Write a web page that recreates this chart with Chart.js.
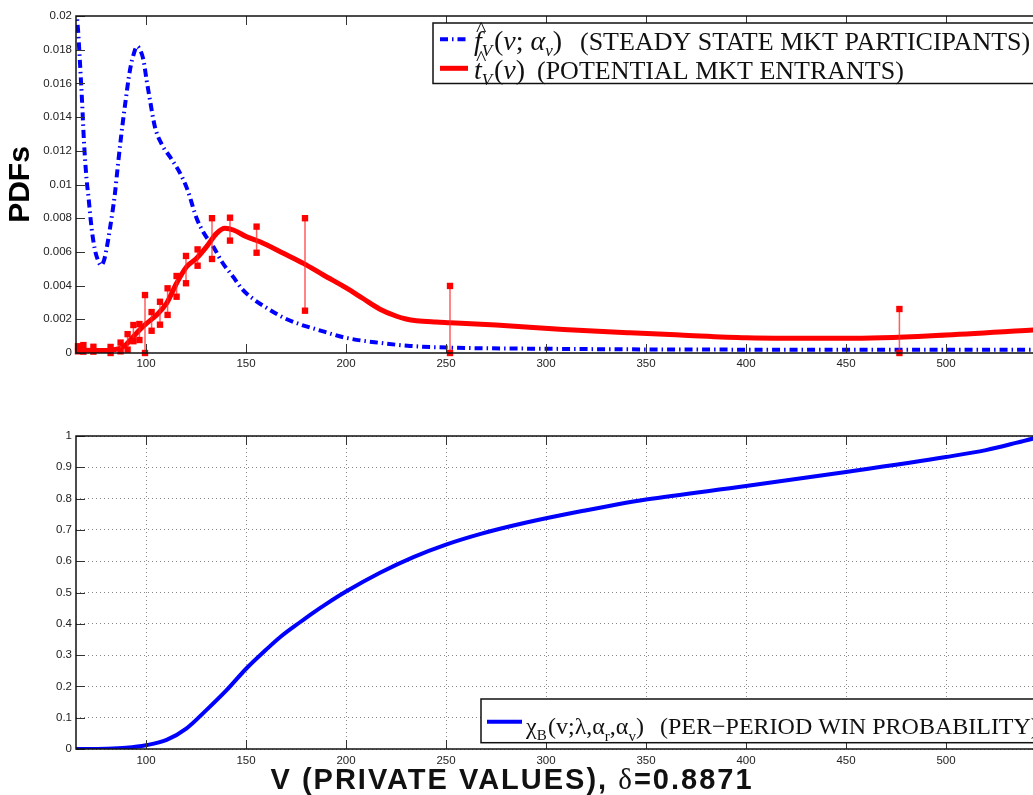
<!DOCTYPE html>
<html>
<head>
<meta charset="utf-8">
<script src="https://cdn.jsdelivr.net/npm/chart.js@4.4.0/dist/chart.umd.min.js"></script>
<style>
html, body { margin: 0; padding: 0; background: #fff; overflow: hidden; }
#wrap { position: relative; width: 1033px; height: 795px; overflow: hidden; background: #fff; }
canvas { position: absolute; left: 0; }
</style>
</head>
<body>
<div id="wrap">
    <canvas id="pdfChart" width="1060" height="378" style="top:0"></canvas>
    <canvas id="winChart" width="1060" height="395" style="top:400px"></canvas>
</div>
<script>
// tick values
const xTicks = [100, 150, 200, 250, 300, 350, 400, 450, 500];
const pdfTicks = [0, 0.002, 0.004, 0.006, 0.008, 0.01, 0.012, 0.014, 0.016, 0.018, 0.02];
const probTicks = [0, 0.1, 0.2, 0.3, 0.4, 0.5, 0.6, 0.7, 0.8, 0.9, 1];

// f_V(v; alpha_v) - steady state market participants
const fV_v = [65, 66, 67, 68, 69, 70.3, 71.2, 72.8, 74.5, 76, 77.5, 79, 80.3, 82, 84.5, 86, 87.5, 89.5, 92, 94, 95.5,
    97, 98.7, 100.3, 102, 104.5, 107.8, 112.8, 117.8, 121, 125.3, 129, 133.7, 138, 143.7, 148, 153.7, 160, 168.7,
    177, 185.3, 200, 217, 232, 252, 300, 400, 500, 550];
const fV_pdf = [0.0205, 0.0192, 0.0172, 0.0150, 0.0125, 0.0103, 0.0093, 0.0074, 0.0061, 0.0055, 0.0052, 0.0055, 0.0062,
    0.0074, 0.0095, 0.0112, 0.0128, 0.0147, 0.0168, 0.0178, 0.0182, 0.0180, 0.0174, 0.0162, 0.0150, 0.0134, 0.0124,
    0.0115, 0.0105, 0.0096, 0.0080, 0.0071, 0.0063, 0.0054, 0.0045, 0.0038, 0.0032, 0.0027, 0.0021, 0.0017, 0.0014,
    0.0009, 0.0006, 0.00042, 0.00032, 0.00025, 0.0002, 0.0002, 0.0002];

// t_V(v) - potential market entrants
const tV_v = [65, 70, 75, 80, 84, 87, 90, 93.7, 97, 100.3, 105.3, 110.3, 115.3, 120.3, 125.3, 130.3, 135.3, 139.5,
    143.7, 150.3, 157, 168.7, 178.7, 188.7, 200.3, 208.7, 217, 225.3, 230, 235.3, 245, 252, 275, 308.7, 342, 367, 400,
    450, 500, 543.5, 550];
const tV_pdf = [0.00018, 0.00016, 0.00015, 0.00015, 0.0002, 0.00028, 0.0005, 0.00097, 0.0014, 0.00176, 0.00225,
    0.00295, 0.00414, 0.00512, 0.00562, 0.00631, 0.0071, 0.0074, 0.0073, 0.0069, 0.0066, 0.00592, 0.00532, 0.00463,
    0.00385, 0.00322, 0.0026, 0.00218, 0.00202, 0.00192, 0.00184, 0.0018, 0.00166, 0.0014, 0.0012, 0.00107, 0.00091,
    0.00087, 0.00107, 0.00137, 0.00142];

// empirical bands (red squares)
const bar_v  = [66, 68.7, 73.7, 82.3, 87.3, 90.8, 93.7, 96.7, 99.5, 102.8, 107, 110.8, 115.3, 120, 125.8, 133, 142,
    155.3, 179.5, 252, 476.7];
const bar_lo = [0.0001, 0.00008, 0.00008, 0, 0.0001, 0.0002, 0.0007, 0.00077, 0, 0.00132, 0.00168, 0.00226, 0.00334,
    0.00414, 0.00518, 0.00558, 0.00667, 0.00595, 0.00251, 0, 0];
const bar_hi = [0.0004, 0.00047, 0.00037, 0.00036, 0.00062, 0.00112, 0.00166, 0.00172, 0.00344, 0.00243, 0.00304,
    0.00384, 0.00457, 0.00576, 0.00615, 0.008, 0.00803, 0.0075, 0.008, 0.00398, 0.00261];

// chi_B(v; lambda, alpha_r, alpha_v) - per-period win probability
const chi_v = [65, 80, 90, 100, 110.3, 120.3, 130.3, 140.3, 150.3, 160, 167, 177, 183.7, 190, 200, 217, 233.7, 250,
    267.8, 283.7, 300, 318.7, 336, 350, 400, 450, 500, 520, 535, 550];
const chi_p = [0, 0.001, 0.004, 0.012, 0.029, 0.066, 0.125, 0.188, 0.258, 0.317, 0.357, 0.405, 0.436, 0.463, 0.503,
    0.563, 0.613, 0.653, 0.688, 0.714, 0.737, 0.761, 0.782, 0.797, 0.84, 0.885, 0.933, 0.955, 0.978, 1.003];

function pts(xs, ys) {
    return xs.map(function (x, i) { return { x: x, y: ys[i] }; });
}

// pares de puntos unidos por una linea vertical
function barPts() {
    const out = [];
    bar_v.forEach(function (v, i) {
        out.push({ x: v, y: bar_lo[i] });
        out.push({ x: v, y: bar_hi[i] });
        out.push({ x: v, y: null });
    });
    return out;
}

Chart.defaults.font.family = '"Liberation Sans", Arial, sans-serif';
Chart.defaults.font.size = 11.5;
Chart.defaults.color = '#222';

const SERIF = '"Liberation Serif", "Times New Roman", serif';

function drawRich(ctx, segs, baseline, size) {
    let x = 0;
    segs.forEach(function (s) {
        if (s.x !== undefined) x = s.x;
        const base = s.m ? size + 2 : size;
        const sz = s.sub ? Math.round(base * 0.62) : base;
        ctx.font = (s.it ? 'italic ' : '') + sz + 'px ' + SERIF;
        const y = baseline + (s.sub ? base * (s.low || 0.2) : 0);
        ctx.fillText(s.t, x, y);
        const w = ctx.measureText(s.t).width;
        if (s.hat) {
            ctx.font = Math.round(base * 0.8) + 'px ' + SERIF;
            const hw = ctx.measureText('^').width;
            ctx.fillText('^', x + w / 2 - hw / 2 + base * 0.12, baseline - base * 0.5);
        }
        x += w;
    });
    return x;
}

// caja, ticks hacia dentro, leyenda y titulo
const matlabAxes = {
    id: 'matlabAxes',
    afterDraw: function (chart, args, opts) {
        const ctx = chart.ctx;
        const a = chart.chartArea;
        const xs = chart.scales.x, ys = chart.scales.y;
        ctx.save();
        ctx.strokeStyle = '#333';
        ctx.lineWidth = 1;
        ctx.beginPath();
        opts.xTicks.forEach(function (v) {
            const px = Math.round(xs.getPixelForValue(v)) + 0.5;
            ctx.moveTo(px, a.bottom); ctx.lineTo(px, a.bottom - 9);
            ctx.moveTo(px, a.top); ctx.lineTo(px, a.top + 9);
        });
        opts.yTicks.forEach(function (v) {
            const py = Math.round(ys.getPixelForValue(v)) + 0.5;
            ctx.moveTo(a.left, py); ctx.lineTo(a.left + 9, py);
        });
        ctx.stroke();
        ctx.strokeStyle = '#111';
        ctx.lineWidth = 1.5;
        ctx.strokeRect(a.left, a.top, a.right - a.left, a.bottom - a.top);

        // leyenda
        const lg = opts.legend;
        ctx.fillStyle = '#fff';
        ctx.fillRect(lg.left, lg.top, 700, lg.bottom - lg.top);
        ctx.fillStyle = '#111';
        ctx.textBaseline = 'alphabetic';
        ctx.textAlign = 'left';
        let right = 0;
        lg.rows.forEach(function (r) {
            ctx.save();
            ctx.strokeStyle = r.color;
            ctx.lineWidth = r.width;
            ctx.setLineDash(r.dash || []);
            ctx.beginPath();
            ctx.moveTo(lg.sampleX[0], r.sampleY);
            ctx.lineTo(lg.sampleX[1], r.sampleY);
            ctx.stroke();
            ctx.restore();
            right = Math.max(right, drawRich(ctx, r.segs, r.baseline, lg.size));
        });
        ctx.strokeStyle = '#111';
        ctx.lineWidth = 1.5;
        ctx.strokeRect(lg.left, lg.top, right + 8 - lg.left, lg.bottom - lg.top);

        if (opts.xTitle) {
            const t = opts.xTitle;
            ctx.textBaseline = 'alphabetic';
            ctx.letterSpacing = t.spacing + 'px';
            const bold = 'bold ' + t.size + 'px "Liberation Sans", Arial, sans-serif';
            const sym = t.size + 'px ' + SERIF;
            const parts = [[t.text[0], bold], [t.text[1], sym], [t.text[2], bold]];
            let total = 0;
            parts.forEach(function (p) { ctx.font = p[1]; total += ctx.measureText(p[0]).width; });
            let x = t.center - total / 2;
            parts.forEach(function (p) {
                ctx.font = p[1];
                ctx.fillText(p[0], x, t.baseline);
                x += ctx.measureText(p[0]).width;
            });
            ctx.letterSpacing = '0px';
        }
        ctx.restore();
    }
};

function xScale(labelPad) {
    return {
        type: 'linear',
        min: 65,
        max: 550,
        afterBuildTicks: function (s) { s.ticks = xTicks.map(function (v) { return { value: v }; }); },
        ticks: { padding: labelPad, maxRotation: 0, autoSkip: false, color: '#222' },
        border: { display: false }
    };
}

// grafico de densidades
new Chart(document.getElementById('pdfChart'), {
    type: 'line',
    data: {
        datasets: [
            {
                data: barPts(),
                borderColor: 'rgba(255, 40, 40, 0.75)',
                borderWidth: 1.5,
                pointStyle: 'rect',
                pointRadius: 4.5,
                pointBackgroundColor: '#ff0000',
                pointBorderWidth: 0,
                spanGaps: false,
                clip: false
            },
            {
                data: pts(tV_v, tV_pdf),
                borderColor: '#ff0000',
                borderWidth: 5,
                pointRadius: 0,
                cubicInterpolationMode: 'monotone'
            },
            {
                data: pts(fV_v, fV_pdf),
                borderColor: '#0000ff',
                borderWidth: 4,
                borderDash: [8, 4, 1.5, 4],
                pointRadius: 0,
                cubicInterpolationMode: 'monotone'
            }
        ]
    },
    options: {
        responsive: false,
        animation: false,
        devicePixelRatio: 1,
        layout: { padding: { top: 16, right: 14, left: 0, bottom: 0 } },
        scales: {
            x: Object.assign(xScale(4), {
                grid: { display: false, drawTicks: false },
                afterFit: function (s) { s.height = 25; }
            }),
            y: {
                min: 0,
                max: 0.02,
                afterBuildTicks: function (s) { s.ticks = pdfTicks.map(function (v) { return { value: v }; }); },
                ticks: {
                    padding: 4,
                    color: '#222',
                    callback: function (v) { return String(parseFloat(v.toFixed(4))); }
                },
                grid: { display: false, drawTicks: false },
                border: { display: false },
                title: {
                    display: true,
                    text: 'PDFs',
                    color: '#000',
                    padding: { top: 3, bottom: 0 },
                    font: { size: 30, weight: 'bold' }
                },
                afterFit: function (s) { s.width = 76; }
            }
        },
        plugins: {
            legend: { display: false },
            tooltip: { enabled: false },
            matlabAxes: {
                xTicks: xTicks,
                yTicks: pdfTicks,
                legend: {
                    left: 433, top: 23, bottom: 83.5, size: 26,
                    sampleX: [440, 468],
                    rows: [
                        {
                            color: '#0000ff', width: 4, dash: [8, 4, 1.5, 4], sampleY: 39.3, baseline: 50,
                            segs: [{ t: 'f', it: 1, m: 1, hat: 1, x: 474 }, { t: 'V', it: 1, m: 1, sub: 1 },
                                { t: '(', m: 1, x: 494 }, { t: 'v', it: 1, m: 1 }, { t: '; ', m: 1 },
                                { t: 'α', it: 1, m: 1 }, { t: 'v', it: 1, m: 1, sub: 1 }, { t: ')', m: 1 },
                                { t: '(STEADY STATE MKT PARTICIPANTS)', x: 580 }]
                        },
                        {
                            color: '#ff0000', width: 5, sampleY: 68.3, baseline: 79,
                            segs: [{ t: 't', it: 1, m: 1, hat: 1, x: 474 }, { t: 'V', it: 1, m: 1, sub: 1 },
                                { t: '(', m: 1, x: 494 }, { t: 'v', it: 1, m: 1 }, { t: ')', m: 1 },
                                { t: '(POTENTIAL MKT ENTRANTS)', x: 537 }]
                        }
                    ]
                }
            }
        }
    },
    plugins: [matlabAxes]
});

// probabilidad de ganar por periodo
new Chart(document.getElementById('winChart'), {
    type: 'line',
    data: {
        datasets: [{
            data: pts(chi_v, chi_p),
            borderColor: '#0000ff',
            borderWidth: 4,
            pointRadius: 0,
            cubicInterpolationMode: 'monotone'
        }]
    },
    options: {
        responsive: false,
        animation: false,
        devicePixelRatio: 1,
        layout: { padding: { top: 36, right: 14, left: 0, bottom: 0 } },
        scales: {
            x: Object.assign(xScale(5), {
                grid: { color: '#888', lineWidth: 1, drawTicks: false },
                border: { display: false, dash: [1, 3] },
                afterFit: function (s) { s.height = 46; }
            }),
            y: {
                min: 0,
                max: 1,
                afterBuildTicks: function (s) { s.ticks = probTicks.map(function (v) { return { value: v }; }); },
                ticks: {
                    padding: 4,
                    color: '#222',
                    callback: function (v) { return String(parseFloat(v.toFixed(2))); }
                },
                grid: { color: '#888', lineWidth: 1, drawTicks: false },
                border: { display: false, dash: [1, 3] },
                afterFit: function (s) { s.width = 76; }
            }
        },
        plugins: {
            legend: { display: false },
            tooltip: { enabled: false },
            matlabAxes: {
                xTicks: xTicks,
                yTicks: probTicks,
                legend: {
                    left: 481, top: 299, bottom: 342.7, size: 24,
                    sampleX: [487, 522],
                    rows: [{
                        color: '#0000ff', width: 4, sampleY: 321.7, baseline: 334,
                        segs: [{ t: 'χ', x: 526 }, { t: 'B', sub: 1, low: 0.25 }, { t: '(v;λ,α', x: 548 },
                            { t: 'r', sub: 1, low: 0.3 }, { t: ',α' }, { t: 'v', sub: 1, low: 0.3 }, { t: ')' },
                            { t: '(PER−PERIOD WIN PROBABILITY)', x: 660 }]
                    }]
                },
                xTitle: { text: ['V (PRIVATE VALUES), ', 'δ', '=0.8871'], size: 29, spacing: 2, center: 512, baseline: 389 }
            }
        }
    },
    plugins: [matlabAxes]
});
</script>
</body>
</html>
